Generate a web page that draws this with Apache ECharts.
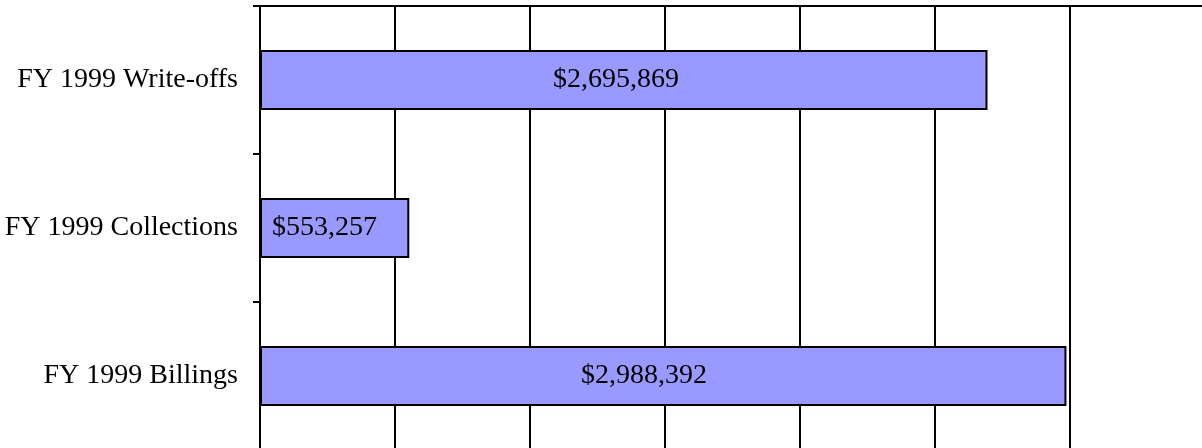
<!DOCTYPE html>
<html>
<head>
<meta charset="utf-8">
<script src="https://cdn.jsdelivr.net/npm/echarts@6/dist/echarts.min.js"></script>
<style>
html,body{margin:0;padding:0;background:#fff;}
#chart{width:1202px;height:448px;}
</style>
</head>
<body>
<div id="chart"></div>
<script>
const categories = ['FY 1999 Write-offs', 'FY 1999 Collections', 'FY 1999 Billings'];
const values = [2695869, 553257, 2988392];
const labelOffsets = [293, 12, 321];

const fontFamily = '"Liberation Serif", "Times New Roman", serif';
const chart = echarts.init(document.getElementById('chart'), null, {renderer: 'canvas'});

function money(v) {
  return '$' + v.toString().replace(/\B(?=(\d{3})+(?!\d))/g, ',');
}

chart.setOption({
  animation: false,
  backgroundColor: '#ffffff',
  grid: {left: 260, width: 944.5, top: 6, height: 444, containLabel: false, outerBoundsMode: 'none'},
  xAxis: {
    type: 'value',
    position: 'top',
    min: 0,
    max: 3500000,
    interval: 500000,
    axisLine: {show: true, lineStyle: {color: '#000', width: 2}},
    axisTick: {show: false},
    axisLabel: {show: false},
    splitLine: {show: true, showMaxLine: false, lineStyle: {color: '#000', width: 2}}
  },
  yAxis: {
    type: 'category',
    inverse: true,
    data: categories,
    axisLine: {show: true, lineStyle: {color: '#000', width: 2}},
    axisTick: {show: true, length: 7, lineStyle: {color: '#000', width: 2}},
    axisLabel: {color: '#000', fontFamily: fontFamily, fontSize: 28, margin: 22},
    splitLine: {show: false}
  },
  series: [{
    type: 'bar',
    barWidth: 60,
    data: values.map((v, i) => ({
      value: v,
      label: {position: 'insideLeft', distance: labelOffsets[i]}
    })),
    itemStyle: {color: '#9999ff', borderColor: '#000', borderWidth: 2},
    label: {
      show: true,
      color: '#000',
      fontFamily: fontFamily,
      fontSize: 28,
      formatter: p => money(p.value)
    }
  }]
});
</script>
</body>
</html>
